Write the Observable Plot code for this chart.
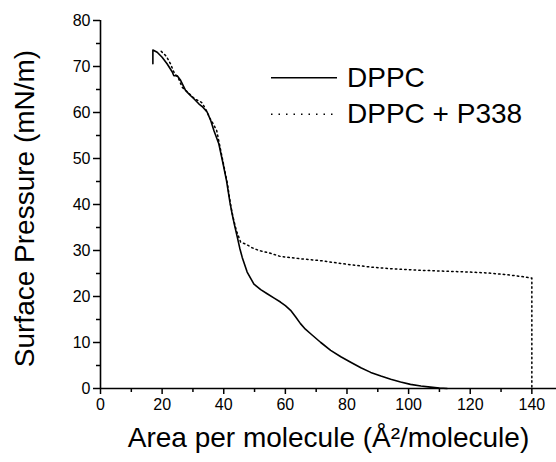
<!DOCTYPE html>
<html><head><meta charset="utf-8">
<script src="https://cdn.jsdelivr.net/npm/d3@7"></script>
<script src="https://cdn.jsdelivr.net/npm/@observablehq/plot@0.6"></script>
<style>
body{margin:0;background:#fff}
#chart{position:relative;width:556px;height:462px;overflow:hidden}
</style>
</head><body><div id="chart"></div>
<script>
// ---- data ----
const seriesNames = ["DPPC", "DPPC + P338"];
const dppcArea = [17, 17, 18.4, 20, 21.6, 23.3, 23.8, 24.9, 26, 27.6, 29, 30.3, 31.9, 33, 34.6, 35.8, 36.8, 38.4, 39.8, 40.9, 42, 42.7, 43.5, 44.4, 45.2, 46, 47.6, 49.8, 52, 54.1, 56.5, 58.4, 60, 61.7, 63.3, 64.9, 66.5, 68.2, 71.5, 74.7, 78, 81.2, 84.5, 87.7, 91, 94.2, 97.4, 100.6, 104, 107.1, 110, 112.5];
const dppcPressure = [70.6, 73.6, 73.1, 72, 70.6, 68.8, 68, 68, 67, 64.8, 63.8, 63, 61.9, 61.3, 60.1, 58.2, 56.1, 53.2, 48.8, 45.2, 40.5, 38, 35.5, 32.9, 30.5, 28.5, 25.3, 22.7, 21.5, 20.6, 19.6, 18.8, 18, 17, 15.6, 14.1, 12.9, 11.9, 10, 8.3, 6.9, 5.7, 4.5, 3.5, 2.7, 2, 1.4, 0.9, 0.55, 0.3, 0.1, 0];
const p338Area = [19.7, 21.4, 22.7, 23.8, 25.4, 26.5, 28.5, 30.5, 32.8, 34.1, 35.5, 36.6, 37.7, 38.7, 40, 41.2, 42.2, 43, 44.1, 44.9, 45.5, 47.1, 49.2, 51.4, 55.2, 58.4, 65, 71.4, 80, 87.7, 95, 103.9, 112, 120.1, 126, 130.9, 135, 138, 140, 140];
const p338Pressure = [73.3, 72.2, 70.6, 68.8, 67.3, 65.5, 64.3, 63, 62.2, 60.8, 58.8, 57.5, 56.1, 52.8, 48.5, 44.5, 40, 37.3, 34.3, 32.9, 31.8, 31.4, 30.6, 30, 29.4, 28.7, 28.2, 27.8, 27, 26.4, 26, 25.7, 25.5, 25.3, 25.1, 24.8, 24.5, 24.2, 24, 0];
const xTicks = [0, 20, 40, 60, 80, 100, 120, 140];
const xMinorTicks = [10, 30, 50, 70, 90, 110, 130];
const yTicks = [0, 10, 20, 30, 40, 50, 60, 70, 80];
const yMinorTicks = [5, 15, 25, 35, 45, 55, 65, 75];
const xLabel = "Area per molecule (Å²/molecule)";
const yLabel = "Surface Pressure (mN/m)";

const dppc = dppcArea.map((a, i) => ({area: a, pressure: dppcPressure[i]}));
const p338 = p338Area.map((a, i) => ({area: a, pressure: p338Pressure[i]}));

const FONT = "'Liberation Sans', Arial, Helvetica, sans-serif";

const plot = Plot.plot({
  width: 556,
  height: 462,
  marginLeft: 100,
  marginRight: 0,
  marginTop: 20,
  marginBottom: 74,
  style: {fontFamily: FONT, background: "white", color: "black", overflow: "visible"},
  x: {domain: [0, 148]},
  y: {domain: [0, 80]},
  marks: [
    Plot.line(p338, {x: "area", y: "pressure", stroke: "black", strokeWidth: 1.5, strokeDasharray: "1.5,3.2"}),
    Plot.line(dppc, {x: "area", y: "pressure", stroke: "black", strokeWidth: 1.6}),
    Plot.axisX({ticks: xTicks, tickSize: 6, tickPadding: 4, fontSize: 16, strokeWidth: 1.5, label: null, tickFormat: d => String(d)}),
    Plot.axisX({ticks: xMinorTicks, tickSize: 4, strokeWidth: 1.5, label: null, tickFormat: () => ""}),
    Plot.axisY({ticks: yTicks, tickSize: 7, tickPadding: 3, fontSize: 16, strokeWidth: 1.5, label: null, tickFormat: d => String(d)}),
    Plot.axisY({ticks: yMinorTicks, tickSize: 4, strokeWidth: 1.5, label: null, tickFormat: () => ""}),
    Plot.ruleX([0], {strokeWidth: 1.6}),
    Plot.ruleY([0], {strokeWidth: 1.6}),
    Plot.text([xLabel], {text: d => d, frameAnchor: "bottom", textAnchor: "middle", dy: 58, fontSize: 28}),
    Plot.text([yLabel], {text: d => d, frameAnchor: "left", textAnchor: "middle", rotate: -90, dx: -75, dy: 4, fontSize: 28})
  ]
});

document.getElementById("chart").appendChild(plot);

// ---- legend (inside the plot area, top right) ----
const svg = d3.select(plot);
const leg = svg.append("g").attr("font-family", FONT).attr("font-size", 28).attr("fill", "black").attr("text-anchor", "start");
const legendItems = [
  {name: seriesNames[0], dash: null, y: 77.7, x2: 337},
  {name: seriesNames[1], dash: "1.5,6", y: 114.3, x2: 334}
];
legendItems.forEach(it => {
  leg.append("line")
    .attr("x1", 271).attr("x2", it.x2).attr("y1", it.y).attr("y2", it.y)
    .attr("stroke", "black").attr("stroke-width", it.dash ? 1.6 : 1.4)
    .attr("stroke-dasharray", it.dash);
  leg.append("text").attr("x", 347).attr("y", it.y + 9).attr("text-anchor", "start").text(it.name);
});
</script>
</body></html>
